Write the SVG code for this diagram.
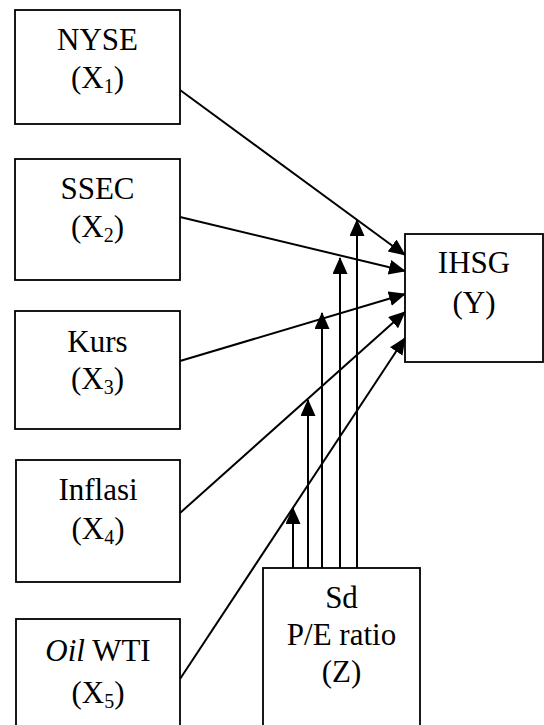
<svg xmlns="http://www.w3.org/2000/svg" width="544" height="725" viewBox="0 0 544 725">
<defs>
<marker id="ah" markerUnits="userSpaceOnUse" markerWidth="17" markerHeight="16" viewBox="0 0 17 16" refX="16" refY="7.5" orient="auto">
<path d="M0,0 L17,7.5 L0,15 Z" fill="#000"/>
</marker>
</defs>
<rect width="544" height="725" fill="#fff"/>
<g id="connectors" stroke="#000" stroke-width="2" fill="none" marker-end="url(#ah)">
<line x1="180" y1="90" x2="405" y2="255"/>
<line x1="180" y1="217" x2="405" y2="271"/>
<line x1="180" y1="361" x2="405" y2="294"/>
<line x1="180" y1="513" x2="405" y2="312"/>
<line x1="180" y1="679" x2="405" y2="338"/>
<line x1="293" y1="568" x2="293" y2="508"/>
<line x1="308" y1="568" x2="308" y2="400"/>
<line x1="322" y1="568" x2="322" y2="313"/>
<line x1="340" y1="568" x2="340" y2="258"/>
<line x1="357" y1="568" x2="357" y2="220"/>
</g>
<g font-family="Liberation Serif, serif" font-size="31" text-anchor="middle">
<g id="nyse">
<rect x="15" y="10" width="165" height="114" fill="#fff" stroke="#000" stroke-width="1.8"/>
<text x="97.5" y="50">NYSE</text>
<text x="97.5" y="88">(X<tspan dy="5" font-size="20">1</tspan><tspan dy="-5">)</tspan></text>
</g>
<g id="ssec">
<rect x="15" y="159" width="165" height="121" fill="#fff" stroke="#000" stroke-width="1.8"/>
<text x="97.5" y="199">SSEC</text>
<text x="97.5" y="237">(X<tspan dy="5" font-size="20">2</tspan><tspan dy="-5">)</tspan></text>
</g>
<g id="kurs">
<rect x="15" y="311" width="165" height="118" fill="#fff" stroke="#000" stroke-width="1.8"/>
<text x="97.5" y="352">Kurs</text>
<text x="97.5" y="389">(X<tspan dy="5" font-size="20">3</tspan><tspan dy="-5">)</tspan></text>
</g>
<g id="inflasi">
<rect x="16" y="460" width="164" height="122" fill="#fff" stroke="#000" stroke-width="1.8"/>
<text x="98" y="500">Inflasi</text>
<text x="98" y="539">(X<tspan dy="5" font-size="20">4</tspan><tspan dy="-5">)</tspan></text>
</g>
<g id="oil">
<rect x="16" y="619" width="164" height="130" fill="#fff" stroke="#000" stroke-width="1.8"/>
<text x="98" y="661"><tspan font-style="italic">Oil</tspan> WTI</text>
<text x="98" y="703">(X<tspan dy="5" font-size="20">5</tspan><tspan dy="-5">)</tspan></text>
</g>
<g id="ihsg">
<rect x="405" y="234" width="138" height="128" fill="#fff" stroke="#000" stroke-width="1.8"/>
<text x="474" y="273">IHSG</text>
<text x="474" y="313">(Y)</text>
</g>
<g id="sd">
<rect x="263" y="568" width="157" height="180" fill="#fff" stroke="#000" stroke-width="1.8"/>
<text x="341.5" y="608">Sd</text>
<text x="341.5" y="645">P/E ratio</text>
<text x="341.5" y="682">(Z)</text>
</g>
</g>
</svg>
